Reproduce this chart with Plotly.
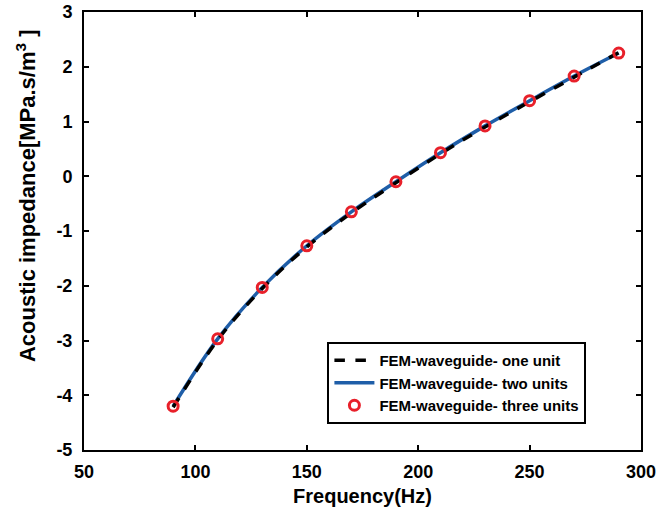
import plotly.graph_objects as go

freq = [90, 110, 130, 150, 170, 190, 210, 230, 250, 270, 290]
one_unit = [-4.22, -2.99, -2.05, -1.29, -0.67, -0.12, 0.41, 0.90, 1.36, 1.81, 2.26]
two_units = [-4.2, -2.97, -2.03, -1.27, -0.65, -0.1, 0.43, 0.92, 1.38, 1.83, 2.25]
three_units = [-4.2, -2.97, -2.03, -1.27, -0.65, -0.1, 0.43, 0.92, 1.38, 1.83, 2.25]

y_tick_vals = [-5, -4, -3, -2, -1, 0, 1, 2, 3]
y_tick_text = ["-5", "-4", "-3", "-2", "-1", "0", "1", "2", "3"]
x_tick_vals = [50, 100, 150, 200, 250, 300]
x_tick_text = ["50", "100", "150", "200", "250", "300"]

FONT = "Liberation Sans, Arial, sans-serif"

fig = go.Figure()
fig.add_trace(go.Scatter(x=freq, y=two_units, mode="lines", name="FEM-waveguide- two units",
                         line=dict(color="#1f5ea8", width=3.5, shape="spline"), legendrank=2))
fig.add_trace(go.Scatter(x=freq, y=one_unit, mode="lines", name="FEM-waveguide- one unit",
                         line=dict(color="black", width=3.5, dash="dash", shape="spline"), legendrank=1))
fig.add_trace(go.Scatter(x=freq, y=three_units, mode="markers", name="FEM-waveguide- three units",
                         marker=dict(symbol="circle-open", size=10, color="#e8202a",
                                     line=dict(width=3, color="#e8202a")), legendrank=3))

fig.update_layout(
    width=659, height=519,
    margin=dict(l=84, r=18, t=12, b=69, autoexpand=False),
    plot_bgcolor="white", paper_bgcolor="white",
    showlegend=True,
    legend=dict(x=0.437, y=0.2466, xanchor="left", yanchor="top",
                bordercolor="black", borderwidth=2, bgcolor="white",
                font=dict(family=FONT, size=15, color="black", weight="bold"),
                itemwidth=40, tracegroupgap=0),
    font=dict(family=FONT, color="black"),
    annotations=[dict(text="Acoustic impedance[MPa.s/m<sup>3</sup> ]", textangle=-90,
                      xref="paper", yref="paper", x=-0.104, y=0.58,
                      xanchor="center", yanchor="middle", showarrow=False,
                      font=dict(family=FONT, size=22, color="black", weight="bold"))],
)
fig.update_xaxes(range=[50, 300], tickvals=x_tick_vals, ticktext=x_tick_text,
                 ticks="inside", ticklen=5, tickwidth=2, tickcolor="black",
                 showline=True, linecolor="black", linewidth=2, mirror="ticks", showgrid=False, zeroline=False,
                 automargin=False, ticklabelstandoff=4, ticklabeloverflow="allow",
                 tickfont=dict(family=FONT, size=18, color="black", weight="bold"),
                 title=dict(text="Frequency(Hz)", standoff=8,
                            font=dict(family=FONT, size=20, color="black", weight="bold")))
fig.update_yaxes(range=[-5, 3], tickvals=y_tick_vals, ticktext=y_tick_text,
                 ticks="inside", ticklen=5, tickwidth=2, tickcolor="black",
                 showline=True, linecolor="black", linewidth=2, mirror="ticks", showgrid=False, zeroline=False,
                 automargin=False, ticklabelstandoff=6, ticklabeloverflow="allow",
                 tickfont=dict(family=FONT, size=18, color="black", weight="bold"))

fig.write_html("out.html", config={"displayModeBar": False},
               post_script="document.body.style.margin='0';")
